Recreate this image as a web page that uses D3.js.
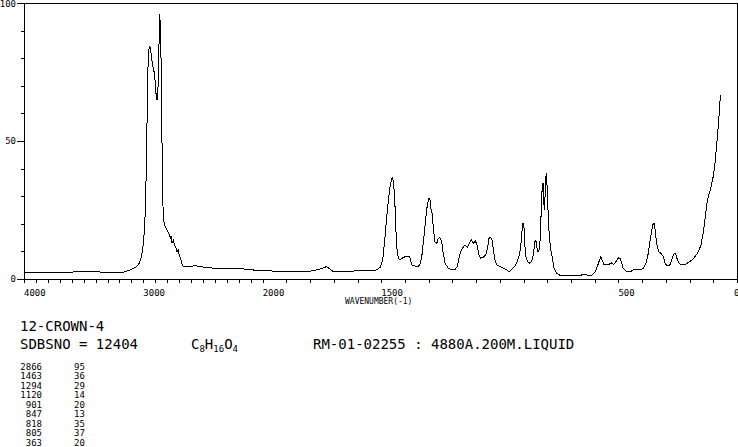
<!DOCTYPE html>
<html><head><meta charset="utf-8">
<script src="https://cdn.jsdelivr.net/npm/d3@7"></script>
<style>
html,body{margin:0;padding:0;background:#fff;}
svg{display:block;}
text{font-family:"DejaVu Sans Mono","Liberation Mono",monospace;fill:#000;}
</style></head>
<body>
<script>
// Raman spectrum of 12-crown-4 (wavenumber in cm-1, relative intensity)
const wavenumbers = [4000,3866,3698,3531,3472,3405,3279,3170,3137,3112,3084,3056,3036,3020,3005,2995,2986,2978,2972,2967,2961,2955,2947,2942,2936,2930,2922,2917,2908,2902,2897,2891,2888,2883,2877,2871,2866,2863,2858,2854,2849,2844,2838,2833,2819,2802,2785,2774,2768,2760,2749,2739,2726,2718,2707,2699,2689,2679,2668,2643,2609,2567,2525,2442,2358,2249,2149,2065,1999,1927,1843,1801,1771,1746,1730,1716,1702,1653,1611,1562,1548,1519,1505,1494,1484,1477,1470,1463,1456,1452,1448,1443,1439,1435,1428,1421,1407,1393,1382,1376,1372,1358,1344,1337,1330,1323,1316,1309,1300,1295,1291,1286,1281,1274,1266,1260,1253,1245,1241,1231,1217,1203,1189,1180,1171,1161,1147,1137,1126,1119,1112,1103,1095,1088,1081,1070,1059,1052,1046,1039,1033,1028,1021,1013,1000,986,971,960,950,936,927,918,912,907,902,898,894,890,884,873,866,859,852,848,843,839,835,831,827,822,818,815,813,810,807,804,801,798,794,790,785,777,772,760,747,718,690,662,640,626,612,598,589,582,574,568,560,549,538,531,521,510,500,493,486,480,465,451,437,423,409,395,384,374,364,355,350,345,339,330,320,311,303,294,283,275,265,258,252,244,234,219,205,191,177,163,152,144,138,132,127,120,113,106,99,92,85,78,74,70];
const intensities = [2.4,2.3,2.4,2.6,2.9,2.6,2.4,2.4,2.9,3.3,3.9,4.5,5.6,7.4,11.0,15.5,22.5,34.8,46.7,64.9,76.8,83.0,84.1,83.7,81.9,79.3,78.3,75.7,75.0,72.1,69.2,64.9,67.4,64.9,69.6,81.2,90.2,96.0,92.0,86.6,71.0,50.4,32.2,21.5,19.2,17.8,16.3,14.9,15.6,13.0,14.1,12.3,11.2,9.8,10.5,8.3,7.6,5.8,4.7,4.5,4.6,4.8,4.5,4.0,3.9,3.9,3.6,3.2,3.0,2.8,2.6,2.8,3.3,4.0,4.5,3.6,2.6,2.8,2.9,3.0,2.9,3.3,4.2,6.9,15.3,22.6,28.6,33.4,36.5,36.8,34.7,28.6,19.0,11.7,7.5,6.9,7.9,8.1,8.3,6.9,5.1,4.7,4.5,5.3,7.5,12.9,19.0,25.0,29.2,28.9,25.6,23.8,19.0,13.5,12.9,14.7,15.1,13.5,10.5,5.7,3.9,3.3,3.5,4.5,8.1,10.8,12.3,11.5,13.5,14.1,12.9,13.8,12.0,8.7,7.5,7.9,8.7,11.1,14.7,15.1,14.1,11.1,6.9,5.1,4.5,3.9,3.3,2.6,3.5,4.7,6.3,8.7,11.7,17.1,20.4,18.4,11.7,8.1,6.3,5.7,6.3,8.7,13.5,14.1,11.1,9.9,10.5,12.9,21.4,32.2,34.7,29.8,25.0,28.6,35.9,38.5,34.1,27.4,19.0,14.1,10.5,6.9,3.9,2.1,1.4,1.1,1.1,1.3,1.8,1.1,1.4,2.6,4.5,6.3,8.1,6.6,5.1,5.1,5.4,5.9,5.3,6.3,7.7,7.5,5.7,3.9,2.6,2.6,3.3,3.5,3.3,3.9,5.7,9.3,15.3,19.6,20.2,17.8,12.9,9.9,9.3,8.1,5.7,4.7,5.1,7.1,9.3,9.1,7.1,5.7,5.1,5.2,6.0,6.8,8.1,9.9,12.3,16.0,19.6,23.8,27.4,30.4,32.2,34.7,37.7,42.5,49.2,56.4,61.2,66.7];

const xTickLabels = [4000,3000,2000,1500,500,0];
const yTickLabels = [0,50,100];
const peakWavenumbers = [2866,1463,1294,1120,901,847,818,805,363];
const peakIntensities = [95,36,29,14,20,13,35,37,20];

const W = 738, H = 447;
const svg = d3.select("body").append("svg").attr("width",W).attr("height",H);
svg.append("rect").attr("width",W).attr("height",H).attr("fill","#fff");

// piecewise-linear wavenumber axis (scale doubles below 2000)
const x = d3.scaleLinear().domain([4000,2000,0]).range([24,262.7,737]);
const y = d3.scaleLinear().domain([0,100]).range([279,3]);

const g = svg.append("g").attr("shape-rendering","crispEdges");

// frame
g.append("line").attr("x1",x(4000)).attr("x2",x(0)).attr("y1",y(100)).attr("y2",y(100)).attr("stroke","#000");
g.append("line").attr("x1",x(0)).attr("x2",x(0)).attr("y1",y(100)).attr("y2",y(0)).attr("stroke","#000");

// x axis
const xTicks = d3.range(4000,-1,-100);
const xAxis = d3.axisBottom(x).tickValues(xTicks).tickSize(4).tickFormat("");
const xg = g.append("g").attr("transform",`translate(0,${y(0)})`).call(xAxis);
xg.select(".domain").attr("stroke","#000");
xg.selectAll(".tick line").attr("stroke","#000");
svg.append("g").selectAll("text").data(xTickLabels).join("text")
  .attr("x",d=>x(d)+(d===0?-3:0)).attr("y",295.5).attr("font-size",9)
  .text(d=>d);

// y axis
const yTicks = d3.range(0,101,10);
const yAxis = d3.axisLeft(y).tickValues(yTicks).tickSize(3).tickFormat("");
const yg = g.append("g").attr("transform",`translate(${x(4000)},0)`).call(yAxis);
yg.select(".domain").attr("stroke","#000");
yg.selectAll(".tick line").attr("stroke","#000").attr("x2",d=>d%50===0?-7:-3);
svg.append("g").selectAll("text").data(yTickLabels).join("text")
  .attr("x",16).attr("y",d=>Math.max(y(d)+3,7)).attr("text-anchor","end").attr("font-size",9)
  .text(d=>d);

svg.append("text").attr("x",345).attr("y",303.5).attr("font-size",8).text("WAVENUMBER(-1)");

// spectrum
const data = wavenumbers.map((w,i)=>[w,intensities[i]]);
svg.append("path").datum(data)
  .attr("d",d3.line().x(d=>x(d[0])).y(d=>y(d[1])))
  .attr("fill","none").attr("stroke","#000").attr("stroke-width",1)
  .attr("shape-rendering","crispEdges");

// header text
svg.append("text").attr("x",20).attr("y",331).attr("font-size",14).text("12-CROWN-4");
svg.append("text").attr("x",20).attr("y",349).attr("font-size",14).text("SDBSNO = 12404");
const f = svg.append("text").attr("x",191).attr("y",349).attr("font-size",14);
f.append("tspan").text("C");
f.append("tspan").attr("font-size",9).attr("dy",3).text("8");
f.append("tspan").attr("dy",-3).text("H");
f.append("tspan").attr("font-size",9).attr("dy",3).text("16");
f.append("tspan").attr("dy",-3).text("O");
f.append("tspan").attr("font-size",9).attr("dy",3).text("4");
svg.append("text").attr("x",313).attr("y",349).attr("font-size",14).text("RM-01-02255 : 4880A.200M.LIQUID");

// peak table
const pt = svg.append("g");
pt.selectAll("text.w").data(peakWavenumbers).join("text").attr("class","w")
  .attr("x",42).attr("y",(d,i)=>369.5+i*9.5).attr("text-anchor","end").attr("font-size",9).text(d=>d);
pt.selectAll("text.v").data(peakIntensities).join("text").attr("class","v")
  .attr("x",74).attr("y",(d,i)=>369.5+i*9.5).attr("font-size",9).text(d=>d);
</script>
</body></html>
